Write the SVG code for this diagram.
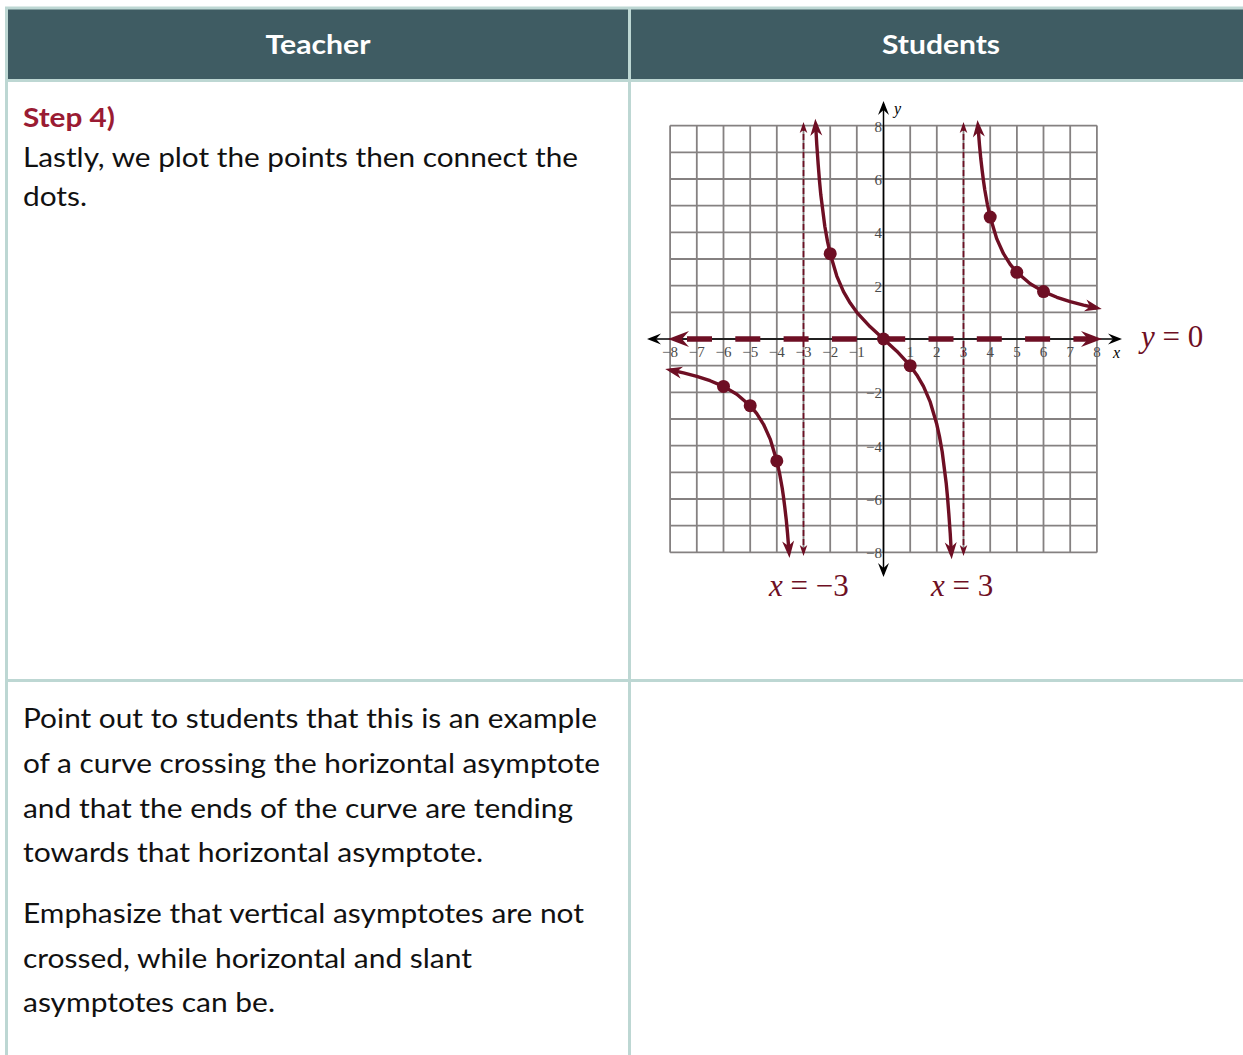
<svg xmlns="http://www.w3.org/2000/svg" width="1243" height="1055" viewBox="0 0 1243 1055">
<style>
.border{stroke:#bdd7d3;stroke-width:3;fill:none}
.hdr{fill:#3f5c63}
.htxt{font-family:Lato,"Open Sans",sans-serif;font-weight:bold;font-size:27px;fill:#ffffff;text-anchor:middle}
.body{font-family:Lato,"Open Sans",sans-serif;font-size:27px;fill:#111111}
.step{font-family:Lato,"Open Sans",sans-serif;font-size:27px;font-weight:bold;fill:#9a1b33}
.grid{stroke:#858181;stroke-width:1.8;fill:none}
.axis{stroke:#000;stroke-width:1.5;fill:none}
.tick{font-family:"Liberation Serif","DejaVu Serif",serif;font-size:15px;fill:#4a4a4a}
.tx{text-anchor:middle}
.ty{text-anchor:end}
.curve{stroke:#6e0f24;stroke-width:3.4;fill:none;stroke-linejoin:round}
.va{stroke:#6e0f24;stroke-width:1.7;fill:none;stroke-dasharray:6 3}
.ha{stroke:#6e0f24;stroke-width:5.5;fill:none;stroke-dasharray:25 23.3}
.dot{fill:#6e0f24}
.big{font-family:"Liberation Serif","DejaVu Serif",serif;font-size:31px;fill:#6e0f24}
.axl{font-family:"Liberation Serif","DejaVu Serif",serif;font-size:16px;font-style:italic;fill:#000}
</style>
<defs>
<marker id="ah-big" markerUnits="userSpaceOnUse" orient="auto-start-reverse" markerWidth="30" markerHeight="30" overflow="visible"><path d="M10,0 L-11,-8 L-4,0 L-11,8 Z" fill="#6e0f24"/></marker>
<marker id="ah-curve" markerUnits="userSpaceOnUse" orient="auto-start-reverse" markerWidth="30" markerHeight="30" overflow="visible"><path d="M5,0 L-12,-6 L-7,0 L-12,6 Z" fill="#6e0f24"/></marker>
<marker id="ah-va" markerUnits="userSpaceOnUse" orient="auto-start-reverse" markerWidth="20" markerHeight="20" overflow="visible"><path d="M3,0 L-8,-3.8 L-5,0 L-8,3.8 Z" fill="#6e0f24"/></marker>
<marker id="ah-axis" markerUnits="userSpaceOnUse" orient="auto-start-reverse" markerWidth="20" markerHeight="20" overflow="visible"><path d="M3,0 L-11,-5.5 L-6,0 L-11,5.5 Z" fill="#000"/></marker>
</defs>
<rect width="1243" height="1055" fill="#ffffff"/>

<g id="table">
<rect class="hdr" x="8" y="9" width="1235" height="70"/>
<line class="border" x1="5" y1="8" x2="1243" y2="8" stroke-width="2"/>
<line class="border" x1="5" y1="80.5" x2="1243" y2="80.5"/>
<line class="border" x1="5" y1="680.5" x2="1243" y2="680.5"/>
<line class="border" x1="6.5" y1="7" x2="6.5" y2="1055"/>
<line class="border" x1="629.5" y1="7" x2="629.5" y2="1055"/>
</g>

<g id="header-teacher"><text class="htxt" x="318" y="54" textLength="105" lengthAdjust="spacingAndGlyphs">Teacher</text></g>
<g id="header-students"><text class="htxt" x="941" y="54" textLength="118" lengthAdjust="spacingAndGlyphs">Students</text></g>

<g id="cell-step4">
<text class="step" x="23" y="127" textLength="92" lengthAdjust="spacingAndGlyphs">Step 4)</text>
<text class="body" x="23" y="167" textLength="555" lengthAdjust="spacingAndGlyphs">Lastly, we plot the points then connect the</text>
<text class="body" x="23" y="206" textLength="64" lengthAdjust="spacingAndGlyphs">dots.</text>
</g>

<g id="cell-notes">
<text class="body" x="23" y="728" textLength="574" lengthAdjust="spacingAndGlyphs">Point out to students that this is an example</text>
<text class="body" x="23" y="773" textLength="577" lengthAdjust="spacingAndGlyphs">of a curve crossing the horizontal asymptote</text>
<text class="body" x="23" y="818" textLength="550" lengthAdjust="spacingAndGlyphs">and that the ends of the curve are tending</text>
<text class="body" x="23" y="862" textLength="460" lengthAdjust="spacingAndGlyphs">towards that horizontal asymptote.</text>
<text class="body" x="23" y="923" textLength="561" lengthAdjust="spacingAndGlyphs">Emphasize that vertical asymptotes are not</text>
<text class="body" x="23" y="968" textLength="449" lengthAdjust="spacingAndGlyphs">crossed, while horizontal and slant</text>
<text class="body" x="23" y="1012" textLength="252" lengthAdjust="spacingAndGlyphs">asymptotes can be.</text>
</g>

<g id="graph">
<path class="grid" d="M670.1,125.6V552.4M696.8,125.6V552.4M723.5,125.6V552.4M750.2,125.6V552.4M776.8,125.6V552.4M803.5,125.6V552.4M830.2,125.6V552.4M856.8,125.6V552.4M883.5,125.6V552.4M910.2,125.6V552.4M936.8,125.6V552.4M963.5,125.6V552.4M990.2,125.6V552.4M1016.9,125.6V552.4M1043.5,125.6V552.4M1070.2,125.6V552.4M1096.9,125.6V552.4
M670.1,125.6H1096.9M670.1,152.3H1096.9M670.1,179H1096.9M670.1,205.7H1096.9M670.1,232.3H1096.9M670.1,259H1096.9M670.1,285.7H1096.9M670.1,312.3H1096.9M670.1,339H1096.9M670.1,365.7H1096.9M670.1,392.3H1096.9M670.1,419H1096.9M670.1,445.7H1096.9M670.1,472.3H1096.9M670.1,499H1096.9M670.1,525.7H1096.9M670.1,552.4H1096.9"/>
<g class="tick tx">
<text x="670.1" y="357">−8</text><text x="696.8" y="357">−7</text><text x="723.5" y="357">−6</text><text x="750.2" y="357">−5</text>
<text x="776.8" y="357">−4</text><text x="803.5" y="357">−3</text><text x="830.2" y="357">−2</text><text x="856.8" y="357">−1</text>
<text x="910.2" y="357">1</text><text x="936.8" y="357">2</text><text x="963.5" y="357">3</text><text x="990.2" y="357">4</text>
<text x="1016.9" y="357">5</text><text x="1043.5" y="357">6</text><text x="1070.2" y="357">7</text><text x="1096.9" y="357">8</text>
</g>
<g class="tick ty">
<text x="882" y="131.6">8</text><text x="882" y="185">6</text><text x="882" y="238.3">4</text><text x="882" y="291.7">2</text>
<text x="882" y="398.3">−2</text><text x="882" y="451.7">−4</text><text x="882" y="505">−6</text><text x="882" y="558.4">−8</text>
</g>
<text class="axl" x="1113" y="358">x</text>
<text class="axl" x="894" y="114">y</text>
</g>

<g id="connectors">
<line class="axis" x1="650" y1="339" x2="1119" y2="339" marker-start="url(#ah-axis)" marker-end="url(#ah-axis)"/>
<line class="axis" x1="883.5" y1="574" x2="883.5" y2="104" marker-start="url(#ah-axis)" marker-end="url(#ah-axis)"/>
<line class="va" x1="803.5" y1="125" x2="803.5" y2="553" marker-start="url(#ah-va)" marker-end="url(#ah-va)"/>
<line class="va" x1="963.5" y1="125" x2="963.5" y2="553" marker-start="url(#ah-va)" marker-end="url(#ah-va)"/>
<line class="ha" x1="678" y1="339" x2="1092" y2="339" stroke-dashoffset="-9" marker-start="url(#ah-big)" marker-end="url(#ah-big)"/>
<polyline class="curve" marker-start="url(#ah-curve)" marker-end="url(#ah-curve)" points="670.1,370 683.5,372.9 696.8,376.3 710.1,380.7 723.5,386.4 736.8,394.2 750.2,405.7 756.8,413.7 763.5,424.3 770.2,439.1 776.8,460.9 779.5,473 782.2,488 783.5,497 784.8,507.3 786.2,519.2 787.5,533 789.1,552.9"/>
<polyline class="curve" marker-start="url(#ah-curve)" marker-end="url(#ah-curve)" points="815.6,123.8 816.8,145 818.2,164.6 819.5,181 820.8,194.8 824.8,226.2 827.5,241.4 830.2,253.7 836.8,276.1 843.5,291.6 850.2,303.1 856.8,312.3 870.2,326.8 883.5,339 896.8,351.2 910.2,365.7 916.8,374.9 923.5,386.4 930.2,401.9 936.8,424.3 939.5,436.6 942.2,451.8 946.2,483.2 947.5,497 948.8,513.4 950.2,533 951.4,554.2"/>
<polyline class="curve" marker-start="url(#ah-curve)" marker-end="url(#ah-curve)" points="977.9,125.1 979.5,145 980.8,158.8 982.2,170.7 983.5,181 984.8,190 987.5,205 990.2,217.1 996.8,238.9 1003.5,253.7 1010.2,264.3 1016.8,272.3 1030.2,283.8 1043.5,291.6 1056.9,297.3 1070.2,301.7 1083.5,305.1 1096.9,308"/>
</g>

<g id="points">
<circle class="dot" cx="723.5" cy="386.4" r="6.5"/>
<circle class="dot" cx="750.2" cy="405.7" r="6.5"/>
<circle class="dot" cx="776.8" cy="460.9" r="6.5"/>
<circle class="dot" cx="830.2" cy="253.7" r="6.5"/>
<circle class="dot" cx="883.5" cy="339" r="6.5"/>
<circle class="dot" cx="910.2" cy="365.7" r="6.5"/>
<circle class="dot" cx="990.2" cy="217.1" r="6.5"/>
<circle class="dot" cx="1016.8" cy="272.3" r="6.5"/>
<circle class="dot" cx="1043.5" cy="291.6" r="6.5"/>
</g>

<g id="asymptote-labels">
<text class="big" x="1141" y="347"><tspan font-style="italic">y</tspan> = 0</text>
<text class="big" x="769" y="596"><tspan font-style="italic">x</tspan> = −3</text>
<text class="big" x="931" y="596"><tspan font-style="italic">x</tspan> = 3</text>
</g>
</svg>
